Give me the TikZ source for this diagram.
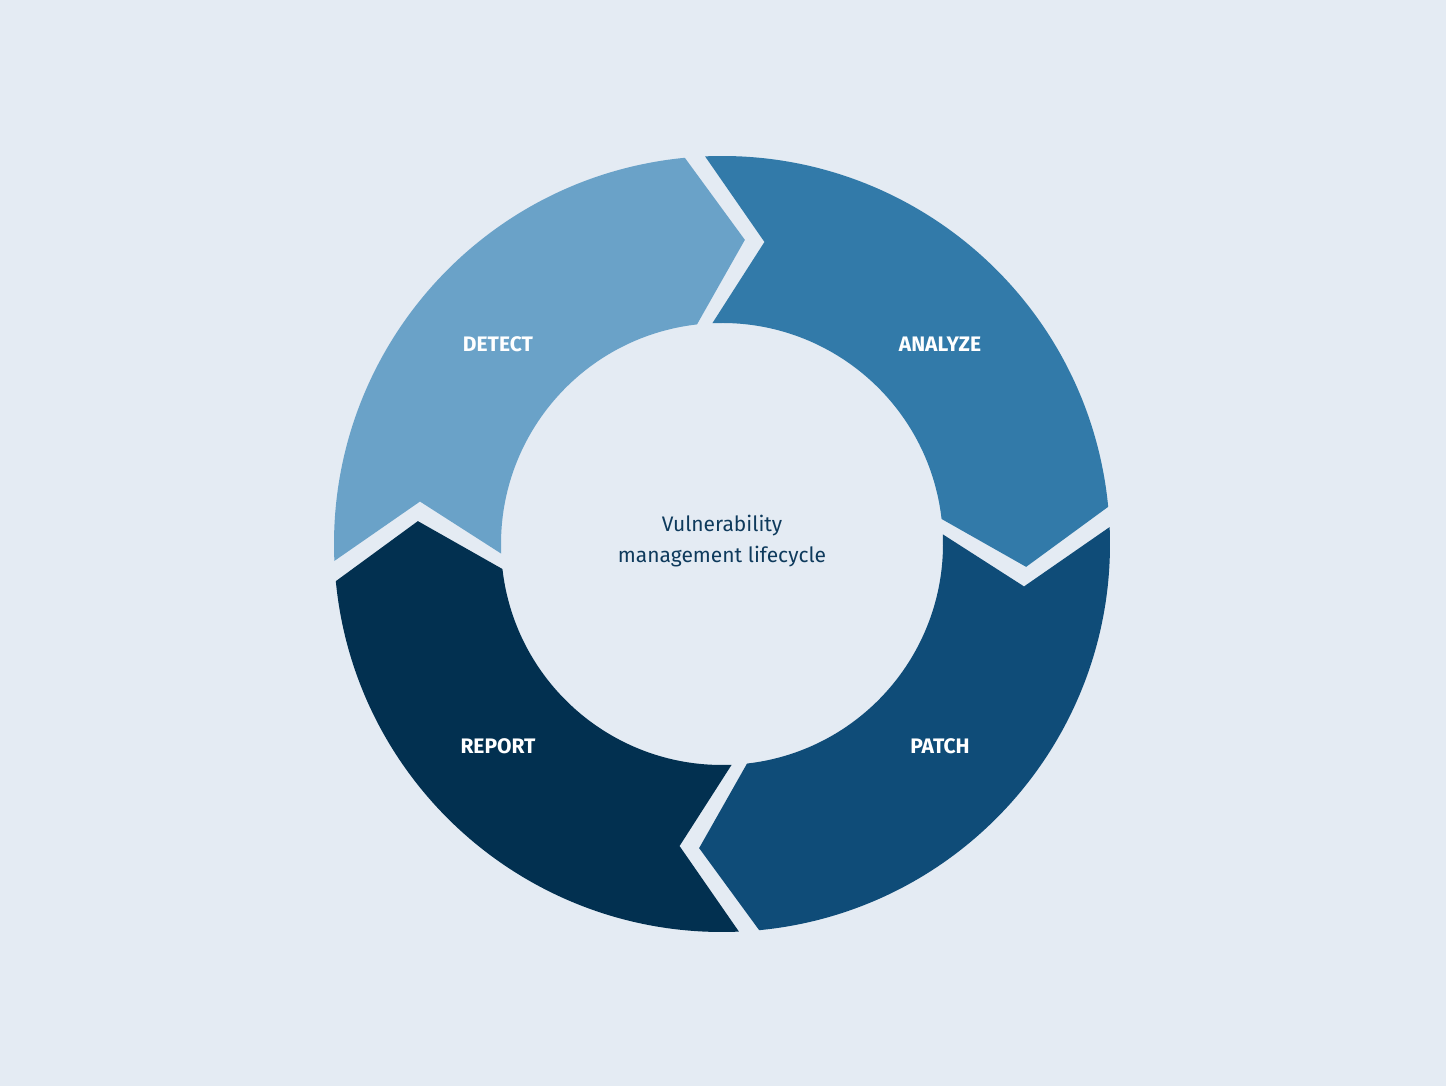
\documentclass[tikz,border=0pt]{standalone}
\usepackage{fontspec}
\setmainfont{Fira Sans}
\definecolor{bg}{HTML}{E4EBF3}
\definecolor{cA}{HTML}{6AA2C8}
\definecolor{cB}{HTML}{327AA9}
\definecolor{cC}{HTML}{0F4C78}
\definecolor{cD}{HTML}{023050}
\definecolor{tx}{HTML}{0E3A5C}
\begin{document}
\begin{tikzpicture}[x=1pt,y=1pt,
  lbl/.style={text=white,font=\bfseries\fontsize{21}{24}\selectfont},
  ctr/.style={text=tx,font=\fontsize{21}{31}\selectfont,align=center}]
\fill[bg] (0,0) rectangle (1446,1086);
\useasboundingbox (0,0) rectangle (1446,1086);
\begin{scope}[shift={(722,542)}]
\foreach \c/\a/\b in {cA/184/94, cB/94/4, cC/4/-86, cD/-86/-176}{
  \fill[\c] ({\a-1.5}:388) arc[start angle={\a-1.5}, end angle={\b+1.5}, radius=388]
    -- ({\b-8.3}:305) -- ({\b+2.5}:221)
    arc[start angle={\b+2.5}, end angle={\a-1.5}, radius=221]
    -- ({\a-12}:305) -- cycle;
}
\end{scope}
\node[lbl] (detect) at (498,742) {DETECT};
\node[lbl] (analyze) at (940,742) {ANALYZE};
\node[lbl] (report) at (498,340) {REPORT};
\node[lbl] (patch) at (940,340) {PATCH};
\node[ctr] (center) at (722,545) {Vulnerability\\management lifecycle};
\end{tikzpicture}
\end{document}
